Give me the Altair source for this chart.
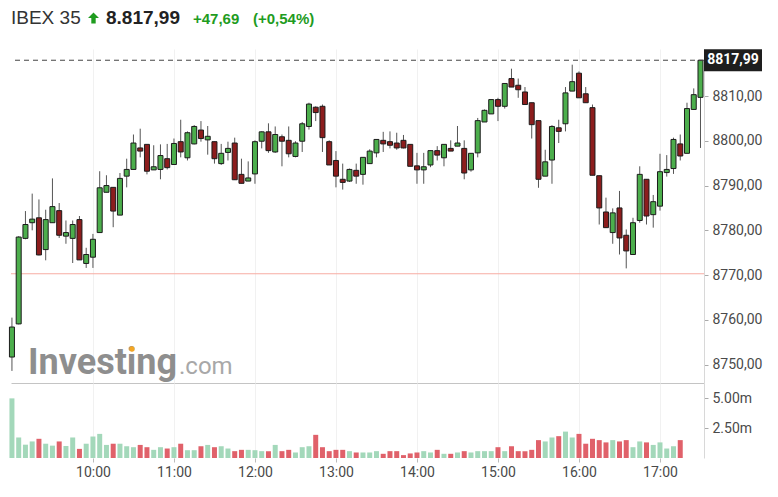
import altair as alt
import pandas as pd

# ---- data (5-minute candles, minutes since 09:00) ----
opens = [8751.7, 8759.1, 8778.2, 8781.7, 8782.8, 8775.7, 8781.7, 8784.4, 8778.7, 8778.2,
         8782.4, 8772.6, 8774.0, 8779.5, 8788.5, 8789.6, 8783.4, 8792.1, 8793.6, 8798.4,
         8799.2, 8793.5, 8793.6, 8796.0, 8794.7, 8799.8, 8796.2, 8799.3, 8802.4, 8800.2,
         8799.8, 8794.9, 8797.4, 8799.5, 8792.5, 8791.0, 8792.6, 8799.9, 8802.0, 8797.5,
         8800.9, 8800.1, 8796.5, 8799.9, 8803.2, 8807.5, 8807.7, 8799.8, 8795.6, 8791.4,
         8791.0, 8793.4, 8792.5, 8794.9, 8797.3, 8800.1, 8799.8, 8799.5, 8800.1, 8799.2,
         8794.4, 8793.5, 8794.6, 8797.8, 8796.2, 8798.3, 8798.8, 8798.3, 8793.5, 8797.3,
         8804.2, 8806.0, 8809.2, 8807.7, 8813.9, 8812.4, 8810.9, 8808.5, 8804.5, 8792.1,
         8795.7, 8802.9, 8803.8, 8811.1, 8815.1, 8810.5, 8807.4, 8792.2, 8784.1, 8779.5,
         8785.0, 8778.9, 8774.6, 8782.2, 8791.4, 8783.5, 8785.4, 8792.9, 8793.8, 8799.3,
         8797.2, 8807.0, 8809.7]
highs = [8760.5, 8778.7, 8784.3, 8788.2, 8786.9, 8784.6, 8791.6, 8786.1, 8782.2, 8782.2,
         8783.2, 8776.1, 8779.2, 8793.2, 8792.3, 8789.6, 8792.8, 8796.0, 8801.4, 8802.7,
         8799.2, 8799.0, 8799.2, 8799.3, 8800.5, 8804.7, 8802.1, 8803.5, 8804.4, 8803.3,
         8799.8, 8799.3, 8799.8, 8800.7, 8796.0, 8795.4, 8800.1, 8802.1, 8803.9, 8803.2,
         8801.4, 8803.2, 8799.9, 8804.2, 8808.5, 8807.7, 8808.1, 8800.1, 8797.7, 8794.9,
         8793.8, 8794.9, 8796.3, 8798.1, 8800.3, 8802.0, 8802.1, 8801.8, 8801.3, 8799.2,
         8797.3, 8797.3, 8797.8, 8798.8, 8799.2, 8800.1, 8803.3, 8800.1, 8797.2, 8805.1,
         8807.0, 8809.2, 8809.6, 8812.9, 8816.1, 8813.9, 8812.0, 8808.5, 8804.5, 8798.0,
         8803.5, 8804.7, 8812.0, 8817.0, 8815.5, 8812.0, 8808.1, 8792.2, 8787.3, 8784.9,
         8788.8, 8780.2, 8782.8, 8794.3, 8791.4, 8787.9, 8797.1, 8796.8, 8800.7, 8801.4,
         8808.5, 8811.7, 8817.99]
lows = [8748.6, 8759.0, 8778.0, 8780.0, 8774.4, 8773.3, 8781.7, 8778.3, 8777.0, 8772.7,
        8773.4, 8771.6, 8771.6, 8779.5, 8788.5, 8780.7, 8783.4, 8789.6, 8793.6, 8796.3,
        8792.5, 8793.5, 8791.4, 8793.6, 8794.7, 8796.3, 8795.6, 8799.2, 8799.8, 8796.9,
        8794.9, 8794.6, 8795.6, 8791.3, 8790.5, 8791.0, 8790.4, 8798.3, 8797.3, 8797.3,
        8794.3, 8796.3, 8796.3, 8797.5, 8802.5, 8804.4, 8797.5, 8794.6, 8789.6, 8789.1,
        8790.8, 8790.4, 8790.2, 8794.9, 8796.3, 8797.5, 8798.3, 8798.0, 8798.3, 8794.3,
        8790.4, 8790.4, 8794.1, 8795.6, 8794.3, 8797.7, 8798.8, 8791.4, 8793.1, 8796.3,
        8804.2, 8806.0, 8804.4, 8807.2, 8812.0, 8809.6, 8808.1, 8800.5, 8789.5, 8792.1,
        8790.4, 8799.5, 8802.1, 8811.1, 8809.6, 8808.5, 8792.3, 8781.3, 8780.6, 8777.0,
        8774.6, 8771.5, 8774.6, 8781.7, 8781.3, 8780.6, 8784.4, 8792.0, 8792.6, 8795.6,
        8797.2, 8807.0, 8798.4]
closes = [8758.4, 8778.5, 8781.3, 8782.5, 8774.5, 8782.4, 8785.3, 8778.9, 8779.5, 8781.3,
          8773.4, 8774.6, 8778.0, 8789.5, 8790.0, 8784.3, 8791.6, 8793.6, 8799.5, 8797.7,
          8793.2, 8794.2, 8796.7, 8794.0, 8799.4, 8797.5, 8801.8, 8803.2, 8800.5, 8801.0,
          8796.0, 8797.2, 8798.3, 8791.3, 8790.5, 8791.7, 8799.8, 8802.0, 8797.8, 8801.4,
          8799.9, 8797.1, 8799.5, 8803.8, 8808.2, 8806.3, 8800.7, 8794.6, 8792.1, 8790.7,
          8793.6, 8792.1, 8796.3, 8797.7, 8800.3, 8799.3, 8799.0, 8798.4, 8798.4, 8794.3,
          8793.5, 8794.2, 8797.8, 8796.8, 8799.2, 8797.7, 8799.5, 8792.8, 8797.2, 8804.5,
          8806.8, 8809.2, 8807.7, 8812.8, 8812.0, 8811.4, 8808.1, 8803.6, 8791.4, 8795.3,
          8803.2, 8802.1, 8810.7, 8813.2, 8809.6, 8808.5, 8792.3, 8785.0, 8780.6, 8783.9,
          8778.3, 8775.4, 8781.7, 8792.5, 8783.2, 8786.4, 8793.1, 8793.6, 8800.3, 8796.6,
          8807.2, 8810.3, 8817.99]
volumes_m = [4.97, 1.71, 1.11, 1.38, 1.60, 1.19, 1.03, 1.38, 1.00, 1.71,
             0.76, 1.19, 1.79, 2.01, 1.09, 1.19, 1.19, 0.98, 0.90, 1.09,
             0.90, 0.68, 0.90, 0.79, 0.90, 1.19, 0.65, 0.65, 0.98, 1.09,
             0.90, 0.98, 0.79, 0.57, 0.68, 0.68, 0.65, 0.57, 0.57, 1.09,
             0.57, 0.68, 0.46, 0.90, 0.98, 1.93, 0.90, 0.57, 0.68, 0.68,
             0.57, 0.46, 0.46, 0.46, 0.57, 0.35, 0.57, 0.57, 0.24, 0.38,
             0.46, 0.57, 0.46, 0.68, 0.35, 0.35, 0.46, 0.57, 0.46, 0.57,
             0.57, 0.57, 0.90, 0.57, 0.98, 0.57, 0.57, 0.68, 1.49, 1.38,
             1.71, 1.82, 2.20, 1.71, 2.01, 1.19, 1.60, 1.49, 1.30, 1.49,
             1.38, 1.49, 0.90, 1.38, 1.30, 1.09, 1.30, 0.79, 0.98, 1.49,
             None, None, None]
minutes = [5 * i for i in range(len(opens))]

prev_close = 8770.30
last_price = 8817.99
header_texts = ["IBEX 35", "8.817,99", "+47,69", "(+0,54%)"]
hour_ticks = [60, 120, 180, 240, 300, 360, 420, 480]
price_ticks = [8750, 8760, 8770, 8780, 8790, 8800, 8810]
volume_ticks = [2.5, 5.0]

df = pd.DataFrame({"minute": minutes, "open": opens, "high": highs, "low": lows,
                   "close": closes, "volume": volumes_m})
df["dir"] = ["up" if c >= o else "down" for o, c in zip(opens, closes)]

W = 693
GREEN_HDR = "#1f9c1f"

xscale = alt.Scale(domain=[-0.7, 512.6], nice=False, zero=False, padding=0)
yscale = alt.Scale(domain=[8745.9, 8820.5], nice=False, zero=False)
vscale = alt.Scale(domain=[0, 6.25], nice=False, zero=True)

x_price = alt.X("minute:Q", scale=xscale, title=None,
                axis=alt.Axis(values=hour_ticks, labels=False, ticks=False, domain=True,
                              domainColor="#c4c4c4", grid=True, gridColor="#f1f1f1"))
y_axis = alt.Axis(orient="right", values=price_ticks, title=None,
                  labelExpr="replace(format(datum.value, '.2f'), '.', ',')",
                  grid=False, domainColor="#d8d8d8", tickColor="#aaaaaa", tickSize=4,
                  labelPadding=4)

base = alt.Chart(df)
wicks = base.mark_rule(color="#555555", strokeWidth=1).encode(
    x=x_price, y=alt.Y("low:Q", scale=yscale, axis=y_axis), y2="high:Q")
bodies = base.mark_bar(size=5, stroke="#1c1c1c", strokeWidth=1).encode(
    x="minute:Q", y="open:Q", y2="close:Q",
    color=alt.Color("dir:N", scale=alt.Scale(domain=["up", "down"], range=["#4cae4c", "#8c1d1d"]),
                    legend=None))
prev_line = alt.Chart(pd.DataFrame({"p": [prev_close]})).mark_rule(
    color="#f7aca3", strokeWidth=1).encode(y="p:Q")
last_line = alt.Chart(pd.DataFrame({"p": [last_price]})).mark_rule(
    color="#444444", strokeWidth=1, strokeDash=[5, 4]).encode(y="p:Q")
box_df = pd.DataFrame({"lo": [last_price - 2.46], "hi": [last_price + 2.46], "p": [last_price],
                       "t": [f"{last_price:.2f}".replace(".", ",")]})
last_box = alt.Chart(box_df).mark_rect(color="#1e1e1e").encode(
    x=alt.value(693), x2=alt.value(751), y="hi:Q", y2="lo:Q")
last_txt = alt.Chart(box_df).mark_text(color="white", fontWeight="bold", fontSize=14,
                                       font="Roboto", align="center", baseline="middle").encode(
    x=alt.value(722), y="p:Q", text="t:N")

wm_df = pd.DataFrame({"a": ["Investing"], "b": [".com"]})
wm1 = alt.Chart(wm_df).mark_text(font="Roboto", fontWeight="bold", fontSize=36, color="#8e8e8e",
                                 align="left", baseline="alphabetic").encode(
    x=alt.value(17), y=alt.value(325), text="a:N")
wm2 = alt.Chart(wm_df).mark_text(font="Roboto", fontSize=24, color="#a8a8a8",
                                 align="left", baseline="alphabetic").encode(
    x=alt.value(168), y=alt.value(325), text="b:N")
wm_dot = alt.Chart(wm_df).mark_point(shape="circle", filled=True, size=28, color="#f5a623",
                                     opacity=1).encode(x=alt.value(121), y=alt.value(300))

price = alt.layer(prev_line, wm1, wm2, wm_dot, wicks, bodies, last_line, last_box, last_txt
                  ).properties(width=W, height=334)

vol = alt.Chart(df).transform_filter("isValid(datum.volume)").mark_bar(size=5).encode(
    x=alt.X("minute:Q", scale=xscale, title=None,
            axis=alt.Axis(values=hour_ticks, labelExpr="(datum.value / 60 + 9) + ':00'",
                          domain=False, ticks=True, tickColor="#bbbbbb", tickSize=4,
                          labelPadding=3, grid=True, gridColor="#f1f1f1")),
    y=alt.Y("volume:Q", scale=vscale, title=None,
            axis=alt.Axis(orient="right", values=volume_ticks, grid=False,
                          labelExpr="format(datum.value, '.2f') + 'm'",
                          domainColor="#d8d8d8", tickColor="#aaaaaa", tickSize=4, labelPadding=4)),
    color=alt.Color("dir:N", scale=alt.Scale(domain=["up", "down"], range=["#a3d8ba", "#e0616a"]),
                    legend=None)
).properties(width=W, height=75)


def htext(txt, x, size, weight, color):
    return alt.Chart(pd.DataFrame({"t": [txt]})).mark_text(
        align="left", baseline="alphabetic", fontSize=size, fontWeight=weight, color=color,
        font="Liberation Sans").encode(x=alt.value(x), y=alt.value(12.7), text="t:N")


arrow = alt.Chart(pd.DataFrame({"t": [""]})).mark_point(
    shape="M0,-1 L1,0 L0.4,0 L0.4,1 L-0.4,1 L-0.4,0 L-1,0 Z", filled=True, size=120,
    color=GREEN_HDR, opacity=1).encode(x=alt.value(82.5), y=alt.value(7))

header = alt.layer(
    htext(header_texts[0], 0, 19, "normal", "#333333"),
    arrow,
    htext(header_texts[1], 95, 19, "bold", "#222222"),
    htext(header_texts[2], 182, 15, "bold", GREEN_HDR),
    htext(header_texts[3], 242, 15, "bold", GREEN_HDR),
).properties(width=W, height=37.5)

chart = alt.vconcat(header, price, vol, spacing=0).resolve_scale(
    x="independent", y="independent", color="independent"
).configure_view(stroke=None).configure_axis(
    labelFont="Roboto", labelFontSize=14, labelColor="#4a4a4a"
).properties(padding={"left": 0, "top": 0, "right": 5, "bottom": 5})

chart.save("out.html", embed_options={"renderer": "svg", "actions": False})
